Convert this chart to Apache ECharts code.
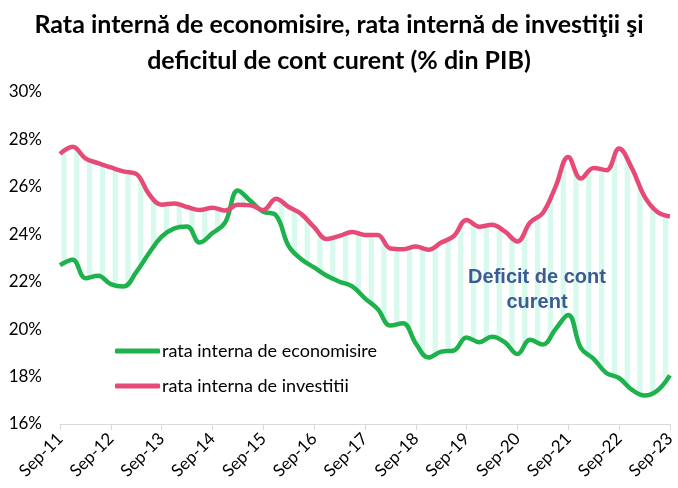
<!DOCTYPE html>
<html>
<head>
<meta charset="utf-8">
<script src="https://cdn.jsdelivr.net/npm/echarts@6/dist/echarts.min.js"></script>
<style>
  html, body { margin: 0; padding: 0; background: #fff; }
  #chart { width: 678px; height: 488px; }
</style>
</head>
<body>
<div id="chart"></div>
<script>
// tick labels (every 4th quarter)
var yearTicks = ['Sep-11', 'Sep-12', 'Sep-13', 'Sep-14', 'Sep-15', 'Sep-16', 'Sep-17',
  'Sep-18', 'Sep-19', 'Sep-20', 'Sep-21', 'Sep-22', 'Sep-23'];
var quarterNames = ['Sep', 'Dec', 'Mar', 'Jun'];

// rata interna de economisire (% din PIB), trimestrial
var economisire = [22.7, 22.93, 22.15, 22.25, 21.9, 21.8, 22.4, 23.2, 23.9, 24.25, 24.33, 23.65,
  24.05, 24.5, 25.85, 25.4, 24.95, 24.8, 23.5, 22.95, 22.6, 22.25, 22.0, 21.8,
  21.3, 20.85, 20.15, 20.25, 19.4, 18.8, 19.05, 19.1, 19.65, 19.45, 19.68, 19.45,
  18.95, 19.55, 19.35, 20.0, 20.6, 19.2, 18.75, 18.15, 17.94, 17.45, 17.2, 17.4, 18.05];

// rata interna de investitii (% din PIB), trimestrial
var investitii = [27.39, 27.69, 27.2, 27.0, 26.82, 26.65, 26.55, 25.7, 25.25, 25.3, 25.15, 25.02,
  25.12, 25.0, 25.25, 25.22, 25.02, 25.5, 25.15, 24.85, 24.3, 23.8, 23.93, 24.1,
  23.97, 23.97, 23.4, 23.37, 23.48, 23.35, 23.65, 23.93, 24.6, 24.32, 24.4, 24.12,
  23.7, 24.5, 24.9, 26.0, 27.26, 26.35, 26.8, 26.7, 27.62, 26.8, 25.6, 24.95, 24.75];

// categorii: un trimestru pe punct, eticheta Sep-YY la fiecare an
var categories = [];
for (var i = 0; i < economisire.length; i++) {
  var yi = Math.floor(i / 4);
  if (i % 4 === 0) {
    categories.push(yearTicks[yi]);
  } else {
    categories.push(quarterNames[i % 4] + '-' + yearTicks[yi].slice(4));
  }
}

var deficit = [];
for (var j = 0; j < investitii.length; j++) {
  deficit.push(+(investitii[j] - economisire[j]).toFixed(2));
}

// hasura verticala pentru zona deficitului
function stripePattern() {
  var c = document.createElement('canvas');
  c.width = 64;
  c.height = 8;
  var ctx = c.getContext('2d');
  ctx.fillStyle = '#d8f9ee';
  for (var k = 0; k <= 5; k++) {
    ctx.fillRect(k * 12.8 - 2.6, 0, 5.2, 8);
  }
  return c;
}

var font = 'Lato, "Liberation Sans", sans-serif';
var myChart = echarts.init(document.getElementById('chart'));

var option = {
  backgroundColor: '#fff',
  animation: false,
  title: {
    text: 'Rata internă de economisire, rata internă de investiţii şi\ndeficitul de cont curent (% din PIB)',
    left: 'center',
    top: 2,
    textStyle: {
      fontFamily: font,
      fontWeight: 'bold',
      fontSize: 25,
      lineHeight: 36,
      color: '#000'
    }
  },
  grid: {
    left: 60,
    right: 4,
    top: 92,
    bottom: 64
  },
  legend: {
    data: ['rata interna de economisire', 'rata interna de investitii'],
    orient: 'vertical',
    left: 110,
    top: 337,
    itemWidth: 45,
    itemHeight: 5,
    itemGap: 17,
    icon: 'roundRect',
    textStyle: {
      fontFamily: font,
      fontSize: 18,
      color: '#000',
      padding: [0, 0, 0, -3]
    }
  },
  xAxis: {
    type: 'category',
    data: categories,
    boundaryGap: false,
    axisLine: {
      lineStyle: { color: '#d9d9d9', width: 1 }
    },
    axisTick: {
      interval: 3,
      length: 6,
      lineStyle: { color: '#d9d9d9' }
    },
    axisLabel: {
      interval: 3,
      rotate: 45,
      margin: 12,
      fontFamily: font,
      fontSize: 17,
      color: '#000'
    },
    splitLine: { show: false }
  },
  yAxis: {
    type: 'value',
    min: 16,
    max: 30,
    interval: 2,
    axisLine: { show: false },
    axisTick: { show: false },
    splitLine: { show: false },
    axisLabel: {
      margin: 18,
      fontFamily: font,
      fontSize: 17,
      color: '#000',
      formatter: '{value}%'
    }
  },
  graphic: [{
    type: 'text',
    x: 537,
    y: 265,
    z: 10,
    style: {
      text: 'Deficit de cont\ncurent',
      align: 'center',
      verticalAlign: 'top',
      fill: '#3b5b93',
      font: 'bold 20px "Liberation Sans", Arial, sans-serif',
      lineHeight: 25
    }
  }],
  series: [{
    name: 'baza',
    type: 'line',
    data: economisire,
    stack: 'cont',
    stackStrategy: 'all',
    smooth: 0.4,
    symbol: 'none',
    lineStyle: { width: 0, opacity: 0 },
    silent: true,
    z: 1
  }, {
    name: 'Deficit de cont curent',
    type: 'line',
    data: deficit,
    stack: 'cont',
    stackStrategy: 'all',
    smooth: 0.4,
    symbol: 'none',
    lineStyle: { width: 0, opacity: 0 },
    areaStyle: {
      color: { image: stripePattern(), repeat: 'repeat' },
      opacity: 1
    },
    silent: true,
    z: 1
  }, {
    name: 'rata interna de economisire',
    type: 'line',
    data: economisire,
    smooth: 0.4,
    symbol: 'none',
    lineStyle: { color: '#1db24b', width: 4.5 },
    itemStyle: { color: '#1db24b' },
    z: 3
  }, {
    name: 'rata interna de investitii',
    type: 'line',
    data: investitii,
    smooth: 0.4,
    symbol: 'none',
    lineStyle: { color: '#e64b77', width: 4.5 },
    itemStyle: { color: '#e64b77' },
    z: 3
  }]
};

myChart.setOption(option);
</script>
</body>
</html>
